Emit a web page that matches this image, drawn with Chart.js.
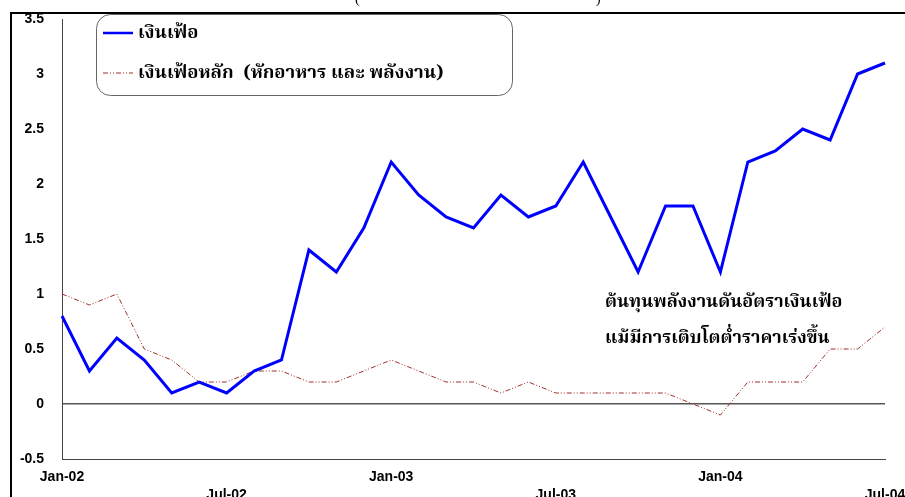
<!DOCTYPE html>
<html>
<head>
<meta charset="utf-8">
<script src="https://cdn.jsdelivr.net/npm/chart.js@4"></script>
<style>
  html, body { margin: 0; padding: 0; background: #fff; }
  #wrap { width: 905px; height: 497px; position: relative; }
</style>
</head>
<body>
<div id="wrap"><canvas id="inflationChart"></canvas></div>
<script>
// 月ラベル
const months = [
    "Jan-02", "Feb-02", "Mar-02", "Apr-02", "May-02", "Jun-02", "Jul-02", "Aug-02", "Sep-02", "Oct-02", "Nov-02", "Dec-02",
    "Jan-03", "Feb-03", "Mar-03", "Apr-03", "May-03", "Jun-03", "Jul-03", "Aug-03", "Sep-03", "Oct-03", "Nov-03", "Dec-03",
    "Jan-04", "Feb-04", "Mar-04", "Apr-04", "May-04", "Jun-04", "Jul-04"
];
// เงินเฟ้อ
const headline = [0.8, 0.3, 0.6, 0.4, 0.1, 0.2, 0.1, 0.3, 0.4, 1.4, 1.2, 1.6,
    2.2, 1.9, 1.7, 1.6, 1.9, 1.7, 1.8, 2.2, 1.7, 1.2, 1.8, 1.8,
    1.2, 2.2, 2.3, 2.5, 2.4, 3.0, 3.1];
// เงินเฟ้อหลัก
const core = [1.0, 0.9, 1.0, 0.5, 0.4, 0.2, 0.2, 0.3, 0.3, 0.2, 0.2, 0.3,
    0.4, 0.3, 0.2, 0.2, 0.1, 0.2, 0.1, 0.1, 0.1, 0.1, 0.1, 0.0,
    -0.1, 0.2, 0.2, 0.2, 0.5, 0.5, 0.7];
const seriesNames = ["เงินเฟ้อ", "เงินเฟ้อหลัก  (หักอาหาร และ พลังงาน)"];
const noteLines = ["ต้นทุนพลังงานดันอัตราเงินเฟ้อ", "แม้มีการเติบโตต่ำราคาเร่งขึ้น"];

const thaiFont = "'Tahoma', 'Noto Serif Thai', 'Noto Sans Thai', 'Liberation Serif', serif";
const coreDash = [5, 2, 1, 2, 1, 2];

document.addEventListener("DOMContentLoaded", () => {
    const ctx = document.getElementById("inflationChart").getContext("2d");

    // 枠線・凡例・注記を描くプラグイン
    const decorations = {
        id: "decorations",
        afterDraw(chart) {
            const c = chart.ctx;
            c.save();
            // 外枠（左と上）
            c.strokeStyle = "#000";
            c.lineWidth = 2;
            c.beginPath();
            c.moveTo(11, 497);
            c.lineTo(11, 13);
            c.lineTo(905, 13);
            c.stroke();

            // タイトルの切れ端
            c.fillStyle = "#000";
            c.font = "14px 'Liberation Serif', serif";
            c.textBaseline = "alphabetic";
            c.fillText("(", 355, 3);
            c.fillText(")", 596, 3);

            // 凡例ボックス
            c.strokeStyle = "#666";
            c.lineWidth = 1;
            c.beginPath();
            c.roundRect(96.5, 14.5, 416, 81, 14);
            c.stroke();

            const ds = chart.data.datasets;
            const lineRows = [33, 73];
            const textRows = [38, 78];
            ds.forEach((d, i) => {
                c.strokeStyle = d.borderColor;
                c.lineWidth = i === 0 ? 2.5 : 1;
                c.setLineDash(d.borderDash || []);
                c.beginPath();
                c.moveTo(103, lineRows[i]);
                c.lineTo(133, lineRows[i]);
                c.stroke();
                c.setLineDash([]);
                c.fillStyle = "#000";
                c.font = "bold 18.5px " + thaiFont;
                c.textBaseline = "alphabetic";
                c.fillText(d.label, 138, textRows[i]);
            });

            // 注記
            c.font = "bold 18px " + thaiFont;
            c.textBaseline = "alphabetic";
            c.fillText(noteLines[0], 605, 307);
            c.fillText(noteLines[1], 605, 343);
            c.restore();
        },
    };

    new Chart(ctx, {
        type: "line",
        data: {
            labels: months,
            datasets: [
                {
                    label: seriesNames[0],
                    data: headline,
                    borderColor: "#0000FF",
                    borderWidth: 3,
                    pointRadius: 0,
                    tension: 0,
                },
                {
                    label: seriesNames[1],
                    data: core,
                    borderColor: "#A0302A",
                    borderWidth: 1,
                    borderDash: coreDash,
                    pointRadius: 0,
                    tension: 0,
                },
            ],
        },
        options: {
            responsive: true,
            maintainAspectRatio: false,
            animation: false,
            layout: { padding: { top: 19, right: 20, left: 0, bottom: 0 } },
            scales: {
                x: {
                    type: "category",
                    offset: false,
                    grid: { display: false, drawTicks: false },
                    border: { display: true, color: "#444", width: 1 },
                    ticks: {
                        autoSkip: false,
                        maxRotation: 0,
                        padding: 9,
                        color: "#000",
                        font: { family: "Arial, 'Liberation Sans', sans-serif", size: 14, weight: "bold", lineHeight: 1.3 },
                        callback(val, idx) {
                            const lab = months[idx];
                            if (idx % 12 === 0) return lab;
                            if (idx % 12 === 6) return ["", lab];
                            return null;
                        },
                    },
                    afterFit(scale) {
                        scale.height = 38;
                        scale.paddingLeft = 0;
                        scale.paddingRight = 0;
                    },
                },
                y: {
                    min: -0.5,
                    max: 3.5,
                    ticks: {
                        stepSize: 0.5,
                        padding: 18,
                        color: "#000",
                        font: { family: "Arial, 'Liberation Sans', sans-serif", size: 14, weight: "bold" },
                        callback: (v) => String(Number(v.toFixed(1))),
                    },
                    grid: {
                        drawTicks: false,
                        color: (c) => (c.tick && c.tick.value === 0 ? "#555" : "rgba(0,0,0,0)"),
                        lineWidth: 1.5,
                    },
                    border: { display: true, color: "#444", width: 1 },
                    afterFit(scale) {
                        scale.width = 62;
                        scale.paddingTop = 0;
                        scale.paddingBottom = 0;
                    },
                },
            },
            plugins: {
                legend: { display: false },
                tooltip: { enabled: false },
            },
        },
        plugins: [decorations],
    });
});
</script>
</body>
</html>
